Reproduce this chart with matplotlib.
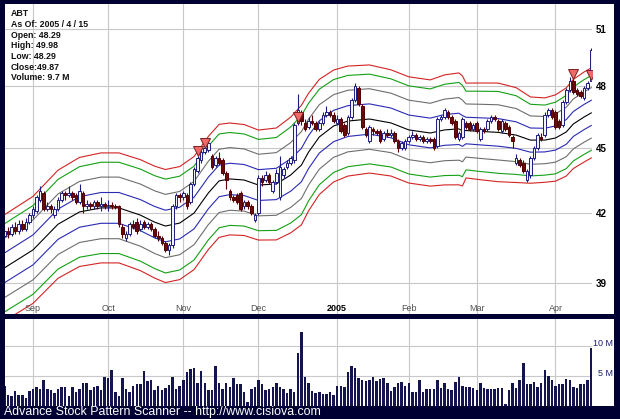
import numpy as np
import matplotlib.pyplot as plt
from matplotlib.patches import Rectangle
from matplotlib.ticker import NullLocator

# ABT daily data, Aug 20 2004 .. Apr 15 2005 (165 trading days)
opens = [41.0, 41.2, 41.1, 41.4, 41.2, 41.5, 41.3, 41.6, 41.9, 42.1,
         42.6, 42.9, 42.2, 42.3, 41.9, 42.2, 42.6, 42.9, 42.8, 42.9,
         42.8, 42.5, 42.9, 42.3, 42.4, 42.3, 42.5, 42.3, 42.4, 42.3,
         42.35, 42.3, 42.3, 41.4, 40.9, 41.1, 41.5, 41.6, 41.3, 41.6,
         41.4, 41.5, 41.3, 41.0, 40.9, 40.7, 40.4, 40.6, 42.3, 42.8,
         42.7, 42.8, 42.5, 43.3, 43.9, 44.4, 44.8, 44.9, 44.6, 44.2,
         44.5, 44.4, 43.8, 43.0, 42.7, 42.8, 42.9, 42.3, 42.5, 42.3,
         41.7, 42.0, 43.6, 43.5, 43.7, 43.0, 43.4, 42.7, 43.7, 44.1,
         44.3, 44.4, 46.2, 46.7, 46.2, 46.0, 46.3, 46.2, 45.9, 46.2,
         46.6, 46.7, 46.6, 46.2, 46.4, 46.1, 45.7, 46.5, 47.3, 47.9,
         47.0, 45.9, 45.3, 45.9, 45.8, 45.8, 45.4, 45.7, 45.6, 45.7,
         45.3, 45.0, 45.0, 45.3, 45.5, 45.6, 45.4, 45.5, 45.3, 45.4,
         45.4, 45.1, 46.4, 46.5, 46.7, 46.5, 46.3, 45.4, 45.5, 46.2,
         46.2, 45.9, 46.2, 45.4, 45.9, 45.9, 46.3, 46.5, 46.3, 45.8,
         46.2, 46.0, 45.5, 44.3, 44.4, 44.3, 43.5, 43.7, 44.5, 45.0,
         45.5, 45.6, 46.6, 46.8, 46.7, 46.3, 46.1, 47.2, 47.8, 48.3,
         47.8, 47.7, 47.4, 47.9, 48.29]
closes = [41.2, 41.1, 41.4, 41.2, 41.5, 41.3, 41.6, 41.9, 42.2, 42.7,
          43.0, 42.2, 42.3, 42.2, 42.2, 42.6, 42.9, 42.8, 42.9, 42.7,
          42.5, 43.0, 42.3, 42.4, 42.3, 42.5, 42.3, 42.4, 42.3, 42.35,
          42.3, 42.25, 41.5, 41.1, 41.1, 41.5, 41.4, 41.2, 41.5, 41.4,
          41.5, 41.3, 41.0, 40.9, 40.7, 40.4, 40.6, 42.3, 42.8, 42.7,
          42.9, 42.3, 43.3, 44.0, 44.5, 44.8, 45.0, 45.2, 44.1, 44.5,
          44.3, 43.8, 43.5, 42.7, 42.6, 42.5, 42.2, 42.5, 42.3, 42.0,
          41.9, 43.6, 43.4, 43.7, 43.4, 43.4, 43.8, 44.1, 44.0, 44.3,
          44.5, 46.1, 46.8, 46.3, 45.9, 46.3, 46.2, 45.9, 46.2, 46.6,
          46.7, 46.6, 46.3, 46.4, 45.8, 45.6, 46.5, 47.3, 48.0, 47.1,
          46.0, 45.6, 46.0, 45.8, 45.7, 45.3, 45.7, 45.6, 45.7, 45.3,
          45.0, 45.2, 45.3, 45.5, 45.6, 45.4, 45.5, 45.3, 45.4, 45.3,
          45.0, 46.4, 46.5, 46.8, 46.5, 46.2, 45.5, 45.7, 46.4, 46.0,
          45.9, 46.1, 45.8, 45.9, 45.8, 46.3, 46.5, 46.4, 45.9, 46.3,
          45.9, 45.6, 45.3, 44.5, 44.2, 43.9, 43.9, 44.5, 45.0, 45.6,
          45.4, 46.6, 46.8, 46.5, 46.0, 46.0, 47.2, 47.8, 48.3, 47.7,
          47.6, 47.5, 47.9, 48.2, 49.87]
highs = [41.4, 41.4, 41.5, 41.6, 41.7, 41.7, 41.8, 42.0, 42.3, 42.8,
         43.2, 43.0, 42.5, 42.4, 42.3, 42.7, 43.0, 43.0, 43.2, 43.0,
         42.9, 43.3, 43.0, 42.6, 42.5, 42.6, 42.6, 42.7, 42.5, 42.6,
         42.5, 42.4, 42.35, 41.5, 41.2, 41.6, 41.7, 41.8, 41.7, 41.7,
         41.6, 41.6, 41.4, 41.2, 41.0, 40.8, 40.7, 42.4, 42.9, 42.9,
         43.0, 42.9, 43.4, 44.1, 44.6, 45.0, 45.2, 45.4, 44.7, 44.6,
         44.8, 44.5, 43.9, 43.1, 42.8, 42.9, 43.0, 42.6, 42.6, 42.4,
         42.0, 43.7, 43.7, 43.9, 43.8, 43.5, 44.0, 44.6, 44.1, 44.4,
         44.6, 46.2, 47.6, 46.8, 46.4, 46.5, 46.6, 46.3, 46.3, 46.7,
         47.0, 46.8, 46.7, 46.6, 46.5, 46.2, 46.6, 47.4, 48.2, 48.0,
         47.1, 46.0, 46.1, 46.0, 45.9, 45.9, 45.8, 45.9, 45.9, 45.8,
         45.4, 45.3, 45.4, 45.6, 45.8, 45.7, 45.6, 45.6, 45.5, 45.5,
         45.5, 46.5, 46.6, 46.9, 46.8, 46.6, 46.4, 45.8, 46.5, 46.3,
         46.3, 46.2, 46.3, 46.0, 46.0, 46.4, 46.6, 46.6, 46.4, 46.4,
         46.3, 46.1, 45.6, 44.7, 44.5, 44.4, 44.0, 44.6, 45.1, 45.7,
         45.7, 46.7, 46.9, 46.9, 46.8, 46.4, 47.3, 47.9, 48.5, 48.4,
         47.9, 47.8, 48.0, 48.3, 49.98]
lows = [40.9, 40.9, 41.0, 41.1, 41.1, 41.2, 41.2, 41.5, 41.8, 42.0,
        42.5, 42.1, 42.1, 42.0, 41.8, 42.1, 42.5, 42.6, 42.7, 42.6,
        42.4, 42.4, 42.0, 42.2, 42.2, 42.2, 42.2, 42.1, 42.2, 42.1,
        42.2, 42.2, 41.4, 40.9, 40.8, 41.0, 41.3, 41.1, 41.2, 41.3,
        41.3, 41.2, 40.9, 40.8, 40.6, 40.3, 40.2, 40.5, 42.2, 42.5,
        42.6, 42.2, 42.4, 43.2, 43.8, 44.3, 44.7, 44.8, 44.0, 44.1,
        44.2, 43.7, 43.1, 42.6, 42.5, 42.4, 42.1, 42.2, 42.2, 41.9,
        41.6, 41.9, 43.2, 43.4, 43.3, 42.9, 43.3, 42.6, 43.6, 44.0,
        44.2, 44.3, 46.1, 46.1, 45.8, 45.9, 46.1, 45.8, 45.8, 46.1,
        46.5, 46.5, 46.2, 46.1, 45.7, 45.5, 45.6, 46.4, 47.2, 47.0,
        45.9, 45.5, 45.2, 45.6, 45.6, 45.2, 45.3, 45.5, 45.5, 45.2,
        44.8, 44.9, 44.9, 45.2, 45.4, 45.3, 45.3, 45.2, 45.2, 45.2,
        44.9, 45.0, 46.3, 46.4, 46.4, 46.1, 45.4, 45.3, 45.4, 45.9,
        45.8, 45.8, 45.7, 45.3, 45.7, 45.8, 46.2, 46.3, 45.8, 45.7,
        45.8, 45.5, 45.0, 44.2, 44.1, 43.8, 43.4, 43.6, 44.4, 44.9,
        45.3, 45.5, 46.5, 46.4, 45.9, 45.9, 46.0, 47.1, 47.7, 47.6,
        47.5, 47.4, 47.3, 47.8, 48.29]
volume_m = [3.3, 1.9, 1.6, 2.5, 1.8, 1.9, 1.4, 2.5, 2.9, 3.1,
            2.8, 4.3, 2.9, 2.6, 2.1, 2.8, 3.1, 3.1, 1.6, 3.2,
            2.3, 2.9, 3.8, 3.8, 2.7, 3.2, 3.3, 2.7, 4.8, 4.6,
            6.0, 2.4, 1.6, 4.7, 2.8, 2.3, 3.3, 3.7, 3.7, 5.8,
            4.2, 4.3, 2.7, 3.3, 2.7, 3.0, 3.5, 4.8, 2.8, 3.4,
            4.3, 5.6, 6.1, 6.3, 3.9, 5.9, 3.9, 2.6, 2.7, 6.7,
            3.9, 2.8, 3.8, 3.2, 4.6, 3.7, 3.6, 2.3, 0.7, 2.8,
            3.1, 4.3, 3.6, 2.6, 2.8, 3.1, 3.8, 3.1, 2.8, 2.2,
            2.8, 2.4, 8.9, 12.3, 4.8, 3.9, 2.5, 2.1, 2.3, 2.0,
            2.0, 2.4, 1.8, 3.3, 3.4, 3.1, 5.7, 6.7, 6.3, 4.6,
            4.4, 4.2, 4.4, 4.8, 4.1, 4.5, 4.6, 3.9, 2.5, 3.1,
            3.9, 4.0, 3.4, 3.8, 2.4, 2.3, 4.3, 2.3, 2.8, 2.8,
            2.8, 4.3, 3.0, 3.9, 2.8, 2.7, 4.0, 4.8, 3.4, 3.2,
            3.1, 3.0, 2.7, 3.8, 3.0, 2.8, 2.8, 2.9, 3.0, 3.0,
            0.4, 2.7, 3.8, 3.0, 4.3, 7.1, 3.6, 3.6, 4.0, 3.1,
            3.9, 6.0, 5.0, 4.3, 3.4, 3.6, 3.6, 4.5, 4.3, 3.1,
            3.0, 3.6, 3.6, 4.3, 9.7]

month_pos = [8, 29, 50, 71, 93, 113, 132, 154]
month_labels = ['Sep', 'Oct', 'Nov', 'Dec', '2005', 'Feb', 'Mar', 'Apr']

# channel: centre line and half width (log %) read at a set of days
band_days = [0, 8, 15, 21, 27, 32, 38, 42, 45, 49, 53, 57, 60, 63, 67, 71, 76, 80,
             83, 85, 88, 92, 96, 102, 108, 113, 119, 123, 127, 128, 129, 133, 138,
             143, 147, 151, 154, 157, 159, 162, 164]
band_center = [39.64, 40.40, 41.51, 42.05, 42.23, 42.23, 41.91, 41.60, 41.43, 41.56,
               42.00, 42.90, 43.45, 43.54, 43.49, 43.26, 43.31, 43.72, 44.18, 44.79,
               45.51, 46.04, 46.28, 46.38, 46.19, 45.85, 45.70, 45.85, 45.90, 45.80,
               45.82, 45.78, 45.73, 45.60, 45.36, 45.36, 45.46, 45.75, 46.14, 46.48,
               46.68]
band_halfwidth = [5.6, 5.64, 5.7, 5.75, 5.8, 5.8, 5.85, 5.9, 5.96, 5.96,
                  5.96, 5.96, 5.96, 5.9, 5.85, 5.8, 5.9, 6.1, 6.3, 6.2,
                  6.07, 5.9, 5.8, 5.7, 5.6, 5.6, 5.6, 5.8, 5.9, 5.8,
                  5.0, 5.1, 5.2, 5.0, 4.55, 4.45, 4.55, 4.65, 4.7, 4.75,
                  4.75]
band_steps = [0.28, 0.56, 0.83, 1.0]
band_colors = ['#2a2ab4', '#6e6e6e', '#14a014', '#d42424']

signal_days = [54, 56, 82, 159, 164]
signal_prices = [44.84, 45.22, 46.48, 48.63, 48.58]

price_ticks = [39, 42, 45, 48, 51]
info_lines = ['ABT', 'As Of: 2005 / 4 / 15', 'Open: 48.29', 'High: 49.98',
              'Low: 48.29', 'Close:49.87', 'Volume: 9.7 M']

plt.rcParams['font.family'] = ['Liberation Sans', 'DejaVu Sans']

W, H = 620, 419
BG = '#000033'
GRID = '#c8c8c8'


def box(x0, y0, x1, y1):
    return [x0 / W, 1 - y1 / H, (x1 - x0) / W, (y1 - y0) / H]


fig = plt.figure(figsize=(W / 100, H / 100), dpi=100, facecolor=BG)
for (x0, y0, x1, y1) in [(5, 4, 614, 314), (5, 319, 614, 406)]:
    b = box(x0, y0, x1, y1)
    fig.patches.append(Rectangle((b[0], b[1]), b[2], b[3], transform=fig.transFigure,
                                 facecolor='white', edgecolor='none', zorder=-5))

days = np.arange(len(closes))
xlim = (0.18, 164.2)

# price panel
ax = fig.add_axes(box(5, 4, 592, 314))
ax.set_facecolor('white')
ax.set_yscale('log')
ax.set_xlim(*xlim)
ax.set_ylim(37.76, 52.36)
for s in ax.spines.values():
    s.set_visible(False)
ax.set_xticks(month_pos)
ax.set_yticks(price_ticks)
ax.set_yticklabels([str(p) for p in price_ticks])
ax.yaxis.set_minor_locator(NullLocator())
ax.yaxis.tick_right()
ax.tick_params(axis='x', length=0, labelbottom=False)
ax.tick_params(axis='y', length=0, pad=3, labelsize=7)
for lbl in ax.get_yticklabels():
    lbl.set_fontweight('bold')
ax.grid(True, color=GRID, lw=0.8)
ax.set_axisbelow(True)

center = np.array(band_center)
hw = np.array(band_halfwidth) / 100
ax.plot(band_days, center, color='black', lw=0.8, zorder=2)
for step, col in zip(band_steps, band_colors):
    ax.plot(band_days, center * np.exp(step * hw), color=col, lw=0.8, zorder=2)
    ax.plot(band_days, center * np.exp(-step * hw), color=col, lw=0.8, zorder=2)

o = np.array(opens)
c = np.array(closes)
up = c >= o
wick_col = np.where(up, '#1c1c80', '#600000')
ax.vlines(days, lows, highs, colors=wick_col, lw=0.8, zorder=3)
body_low = np.minimum(o, c)
body_h = np.maximum(np.abs(c - o), 0.03)
ax.bar(days[up], body_h[up], bottom=body_low[up], width=0.72,
       color='#f2f2ff', edgecolor='#1c1c80', linewidth=0.7, zorder=4)
ax.bar(days[~up], body_h[~up], bottom=body_low[~up], width=0.72,
       color='#6a0a0a', edgecolor='#500000', linewidth=0.7, zorder=4)

ax.plot(signal_days, signal_prices, linestyle='none', marker='v', markersize=7,
        markerfacecolor='#f06868', markeredgecolor='#7a2020', markeredgewidth=0.7, zorder=5)

for pos, lab in zip(month_pos, month_labels):
    bold = lab == '2005'
    ax.text(pos, 0.018, lab, transform=ax.get_xaxis_transform(), ha='center', va='center',
            fontsize=6.5, color='black' if bold else '#505050',
            fontweight='bold' if bold else 'normal')

for k, line in enumerate(info_lines):
    fig.text(11 / W, 1 - (14 + 10.6 * k) / H, line, ha='left', va='center',
             fontsize=6.3, fontweight='bold', color='#101010')

# volume panel
axv = fig.add_axes(box(5, 319, 592, 406))
axv.set_facecolor('white')
axv.set_xlim(*xlim)
axv.set_ylim(0, 14.5)
for s in axv.spines.values():
    s.set_visible(False)
axv.set_xticks(month_pos)
axv.set_yticks([5, 10])
axv.tick_params(length=0, labelbottom=False, labelleft=False)
axv.grid(True, color=GRID, lw=0.8)
axv.set_axisbelow(True)
axv.bar(days, volume_m, width=0.7, color='#14144e', zorder=3)
for v, lab in [(10, '10 M'), (5, '5 M')]:
    axv.text(1 + 21 / 587, v + 0.45, lab, transform=axv.get_yaxis_transform(),
             ha='right', va='center', fontsize=6.5, color='#1a1a7a')

fig.text(4 / W, 1 - 412 / H, 'Advance Stock Pattern Scanner -- http://www.cisiova.com',
         ha='left', va='center', fontsize=8.9, color='white')

fig.savefig('out.png', dpi=100, facecolor=fig.get_facecolor())
